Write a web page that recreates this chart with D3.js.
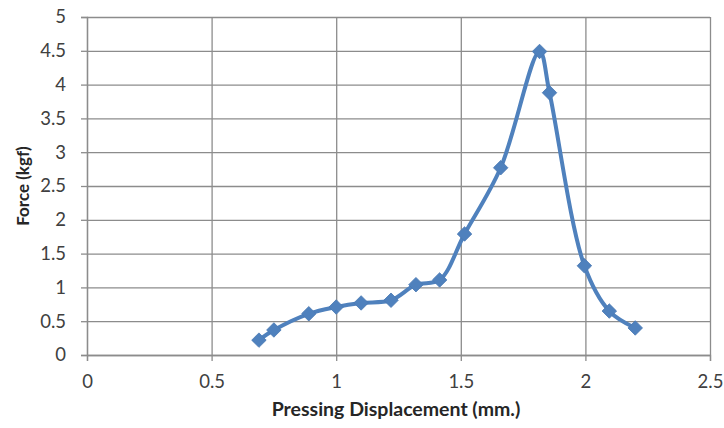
<!DOCTYPE html>
<html>
<head>
<meta charset="utf-8">
<script src="https://cdn.jsdelivr.net/npm/d3@7"></script>
<style>
  body { margin: 0; background: #fff; }
  text { font-family: Lato, "Open Sans", sans-serif; fill: #404040; }
</style>
</head>
<body>
<div id="chart"></div>
<script>
const displacement = [0.69, 0.75, 0.89, 1.0, 1.1, 1.22, 1.32, 1.415, 1.515, 1.66, 1.816, 1.856, 1.996, 2.096, 2.2];
const force = [0.22, 0.37, 0.61, 0.71, 0.77, 0.81, 1.04, 1.11, 1.79, 2.77, 4.49, 3.88, 1.32, 0.65, 0.40];
const xTicks = [0, 0.5, 1, 1.5, 2, 2.5];
const yTicks = [0, 0.5, 1, 1.5, 2, 2.5, 3, 3.5, 4, 4.5, 5];

const width = 724, height = 428;
const margin = { left: 87, right: 14, top: 17, bottom: 73 };

const svg = d3.select('#chart')
  .append('svg')
  .attr('width', width)
  .attr('height', height);

const x = d3.scaleLinear().domain([0, 2.5]).range([margin.left, width - margin.right]);
const y = d3.scaleLinear().domain([0, 5]).range([height - margin.bottom, margin.top]);

// gridlines
svg.append('g')
  .attr('transform', `translate(${margin.left},0)`)
  .call(d3.axisLeft(y).tickValues(yTicks).tickSize(-(width - margin.left - margin.right)).tickFormat(''))
  .call(g => g.select('.domain').remove())
  .call(g => g.selectAll('line').attr('stroke', '#8c8c8c').attr('stroke-width', 1.3));

svg.append('g')
  .attr('transform', `translate(0,${height - margin.bottom})`)
  .call(d3.axisBottom(x).tickValues(xTicks).tickSize(-(height - margin.top - margin.bottom)).tickFormat(''))
  .call(g => g.select('.domain').remove())
  .call(g => g.selectAll('line').attr('stroke', '#8c8c8c').attr('stroke-width', 1.3));

// axes with outside ticks
const yAxis = svg.append('g')
  .attr('transform', `translate(${margin.left},0)`)
  .call(d3.axisLeft(y).tickValues(yTicks).tickSize(6).tickPadding(15).tickFormat(d3.format('')));
const xAxis = svg.append('g')
  .attr('transform', `translate(0,${height - margin.bottom})`)
  .call(d3.axisBottom(x).tickValues(xTicks).tickSize(6).tickPadding(14).tickFormat(d3.format('')));

[yAxis, xAxis].forEach(a => {
  a.attr('font-size', null).attr('font-family', null);
  a.selectAll('line').attr('stroke', '#8c8c8c').attr('stroke-width', 1.3);
  a.select('.domain').attr('stroke', '#8c8c8c').attr('stroke-width', 1.3);
  a.selectAll('text').style('font-size', '18.5px').style('fill', '#404040');
});

// titles
svg.append('text')
  .attr('x', 396)
  .attr('y', 416)
  .attr('text-anchor', 'middle')
  .style('font-size', '19.5px')
  .style('font-weight', 'bold')
  .style('fill', '#262626')
  .text('Pressing Displacement (mm.)');

svg.append('text')
  .attr('transform', `translate(29,${(margin.top + height - margin.bottom) / 2}) rotate(-90)`)
  .attr('text-anchor', 'middle')
  .style('font-size', '17px')
  .style('font-weight', 'bold')
  .style('fill', '#262626')
  .text('Force (kgf)');

// series
const points = displacement.map((d, i) => [d, force[i]]);
const line = d3.line()
  .x(d => x(d[0]))
  .y(d => y(d[1]))
  .curve(d3.curveCatmullRom.alpha(0.5));

svg.append('path')
  .datum(points)
  .attr('fill', 'none')
  .attr('stroke', '#4f81bd')
  .attr('stroke-width', 4)
  .attr('stroke-linejoin', 'round')
  .attr('d', line);

svg.append('g')
  .selectAll('path')
  .data(points)
  .enter()
  .append('path')
  .attr('transform', d => `translate(${x(d[0])},${y(d[1])}) rotate(45)`)
  .attr('d', d3.symbol(d3.symbolSquare, 105))
  .attr('fill', '#4f81bd')
  .attr('stroke', '#4a7ab3')
  .attr('stroke-width', 0.8);
</script>
</body>
</html>
